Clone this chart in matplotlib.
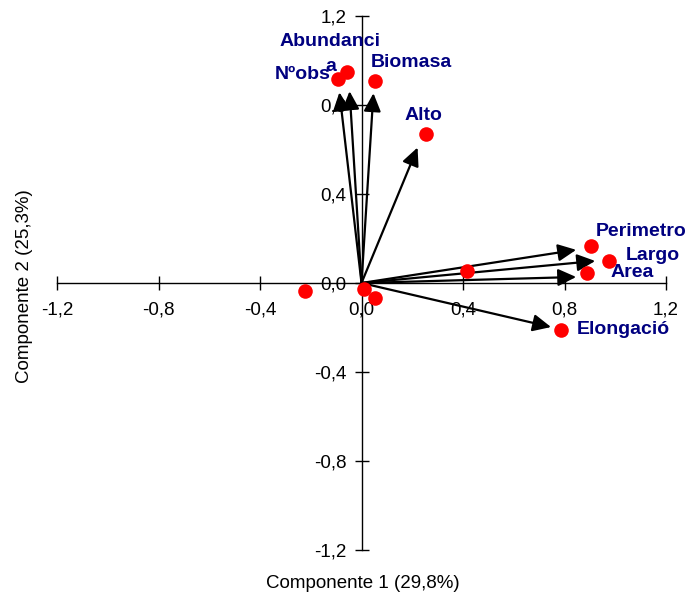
import matplotlib.pyplot as plt
import numpy as np

plt.rcParams['font.family'] = ['Liberation Sans', 'DejaVu Sans']

# variable loadings (red dots) and arrow tips
names = ["Nºobs", "Abundanci\na", "Biomasa", "Alto", "Perimetro", "Largo", "Area", "Elongació"]
pt_x = [-0.091, -0.057, 0.055, 0.253, 0.905, 0.976, 0.889, 0.787]
pt_y = [0.918, 0.950, 0.907, 0.668, 0.167, 0.099, 0.045, -0.212]
arr_x = [-0.087, -0.047, 0.047, 0.221, 0.846, 0.921, 0.846, 0.747]
arr_y = [0.857, 0.862, 0.853, 0.609, 0.149, 0.099, 0.027, -0.198]

# extra unlabeled points
ex_x = [0.415, -0.221, 0.055, 0.008]
ex_y = [0.054, -0.036, -0.068, -0.027]

ticks = [-1.2, -0.8, -0.4, 0.0, 0.4, 0.8, 1.2]
tick_labels = ["-1,2", "-0,8", "-0,4", "0,0", "0,4", "0,8", "1,2"]

fig = plt.figure(figsize=(6.89, 5.94), dpi=100)
ax = fig.add_axes([57/689, 1-550/594, (666-57)/689, (550-16)/594])
ax.set_xlim(-1.2, 1.2)
ax.set_ylim(-1.2, 1.2)

for s in ["top", "right"]:
    ax.spines[s].set_visible(False)
ax.spines["left"].set_position(("data", 0))
ax.spines["bottom"].set_position(("data", 0))
for s in ["left", "bottom"]:
    ax.spines[s].set_linewidth(1.0)
    ax.spines[s].set_color("black")

ax.set_xticks(ticks)
ax.set_xticklabels(tick_labels)
ax.set_yticks(ticks)
ax.set_yticklabels(tick_labels)
ax.tick_params(axis="both", direction="inout", length=10, width=1.0, labelsize=13.5)
ax.tick_params(axis="x", pad=8)
ax.tick_params(axis="y", pad=6)

# arrows
for x, y in zip(arr_x, arr_y):
    ax.annotate("", xy=(x, y), xytext=(0, 0),
                arrowprops=dict(arrowstyle="-|>,head_length=0.55,head_width=0.26",
                                lw=1.6, color="black", shrinkA=0, shrinkB=0,
                                mutation_scale=20),
                zorder=3)

ax.plot(pt_x + ex_x, pt_y + ex_y, "o", color="#ff0000", markersize=10.5,
        markeredgewidth=0, zorder=5, clip_on=False)

# label offsets in points (dx, dy) and alignment
offs = [(-5.5, 3), (-12, 27.5), (-3.5, 13.5), (-1.5, 13.5), (3.5, 10), (12, 4), (17, 0.5), (11, 0.5)]
has = ["right", "center", "left", "center", "left", "left", "left", "left"]
for n, x, y, o, h in zip(names, pt_x, pt_y, offs, has):
    ax.annotate(n, xy=(x, y), xytext=o, textcoords="offset points",
                ha=h, va="top" if n.startswith("Abund") else "center",
                fontsize=14, fontweight="bold", color="#000080", zorder=4,
                linespacing=1.55)

fig.text(363/689, 1-583/594, "Componente 1 (29,8%)", ha="center", va="center", fontsize=13.5)
fig.text(25/689, 1-286/594, "Componente 2 (25,3%)", ha="center", va="center",
         rotation=90, fontsize=13.5)

fig.savefig("out.png", dpi=100)
